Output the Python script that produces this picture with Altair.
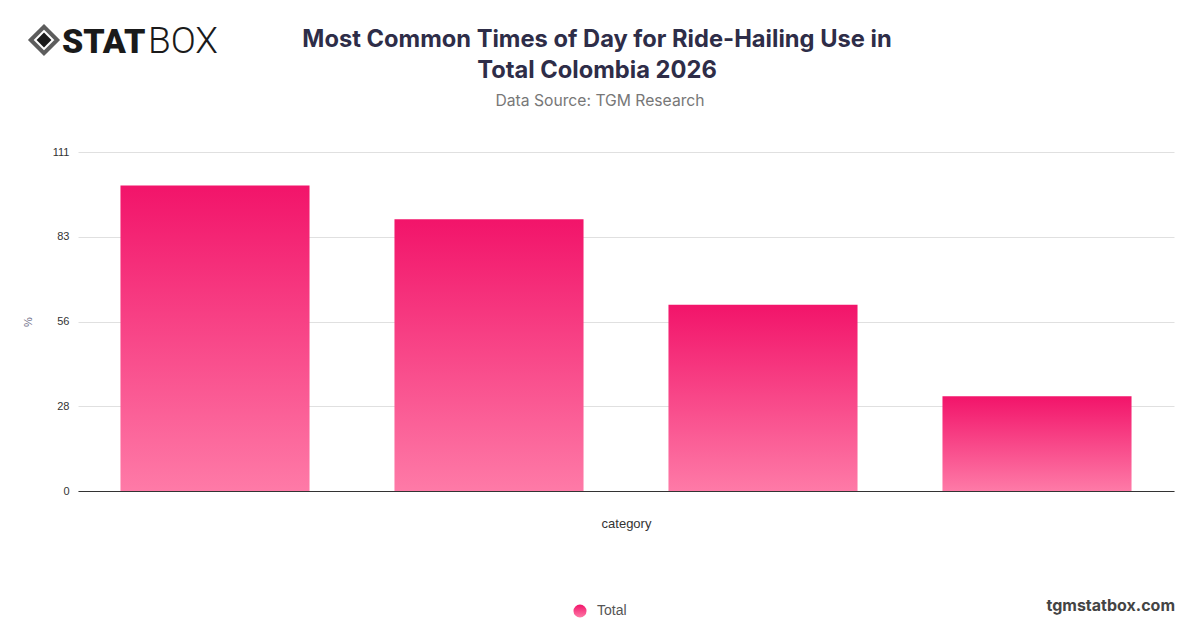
"""Bar chart: most common times of day for ride-hailing use, Colombia 2026."""

import pandas as pd
import altair as alt

# chart values
categories = ["Evening", "Morning", "Afternoon", "Night"]
values = [100, 89, 61, 31]
series_name = "Total"
y_ticks = [0, 27.75, 55.5, 83.25, 111]

title_lines = ["Most Common Times of Day for Ride-Hailing Use in", "Total Colombia 2026"]
subtitle = "Data Source: TGM Research"
footer = "tgmstatbox.com"

bars_df = pd.DataFrame({"category": categories, "value": values})

pink_gradient = alt.Gradient(
    gradient="linear",
    stops=[alt.GradientStop(color="#f2146a", offset=0),
           alt.GradientStop(color="#fe7aa7", offset=1)],
    x1=0, x2=0, y1=0, y2=1,
)

bars = alt.Chart(bars_df).mark_bar(color=pink_gradient).encode(
    x=alt.X("category:N", sort=None, title="category",
            scale=alt.Scale(paddingInner=0.31, paddingOuter=0.155),
            axis=alt.Axis(labels=False, ticks=False, domainColor="#333333",
                          titlePadding=26, titleFontSize=13,
                          titleFontWeight="normal", titleColor="#333333")),
    y=alt.Y("value:Q", title="%",
            scale=alt.Scale(domain=[0, 111], nice=False),
            axis=alt.Axis(values=y_ticks, format=".0f", domain=False, ticks=False,
                          labelPadding=9, labelFontSize=11, labelColor="#333333",
                          gridColor="#e0e0e0", titlePadding=19,
                          titleFontSize=11, titleFontWeight="normal",
                          titleColor="#6b6b85")),
)


def text_layer(text, x, y, **kw):
    df = pd.DataFrame({"t": [text]})
    return alt.Chart(df).mark_text(**kw).encode(
        text="t:N", x=alt.value(x), y=alt.value(y))


title1 = text_layer(title_lines[0], 519, -112, fontSize=23.7, fontWeight="bold",
                    font="Inter", color="#2e2d48", align="center", baseline="middle")
title2 = text_layer(title_lines[1], 519, -81, fontSize=23.7, fontWeight="bold",
                    font="Inter", color="#2e2d48", align="center", baseline="middle")
sub = text_layer(subtitle, 522, -51, fontSize=15.7, font="Inter",
                 color="#777777", align="center", baseline="middle")

logo_icon_outer = alt.Chart(pd.DataFrame({"t": [0]})).mark_point(
    shape="diamond", size=700, strokeWidth=4, color="#1a1a1a", filled=False
).encode(x=alt.value(-34), y=alt.value(-112))
logo_icon_inner = alt.Chart(pd.DataFrame({"t": [0]})).mark_point(
    shape="diamond", size=220, color="#1a1a1a", filled=True, opacity=1
).encode(x=alt.value(-34), y=alt.value(-112))
logo_stat = text_layer("STAT", -16, -99, fontSize=34, fontWeight=900, font="Roboto",
                       color="#1a1a1a", align="left", baseline="alphabetic")
logo_box = text_layer("BOX", 70, -99, fontSize=37, fontWeight=300, font="Roboto",
                      color="#1a1a1a", align="left", baseline="alphabetic")

legend_dot = alt.Chart(pd.DataFrame({"t": [series_name]})).mark_circle(
    color=pink_gradient, size=170, opacity=1
).encode(x=alt.value(502), y=alt.value(459))
legend_text = text_layer(series_name, 519, 459, fontSize=14, font="Liberation Sans",
                         color="#555555", align="left", baseline="middle")

foot = text_layer(footer, 1097, 454, fontSize=16, fontWeight="bold", font="Inter",
                  color="#444444", align="right", baseline="middle")

chart = alt.layer(
    bars, title1, title2, sub, logo_icon_outer, logo_icon_inner, logo_stat, logo_box,
    legend_dot, legend_text, foot,
).properties(
    width=1096,
    height=339,
    autosize=alt.AutoSizeParams(type="none"),
    padding={"left": 70, "top": 144, "right": 18, "bottom": 129},
).configure_view(
    stroke=None
).configure_axis(
    labelFont="Liberation Sans", titleFont="Liberation Sans"
)

chart.save("out.html", embed_options={"renderer": "svg", "actions": False})
